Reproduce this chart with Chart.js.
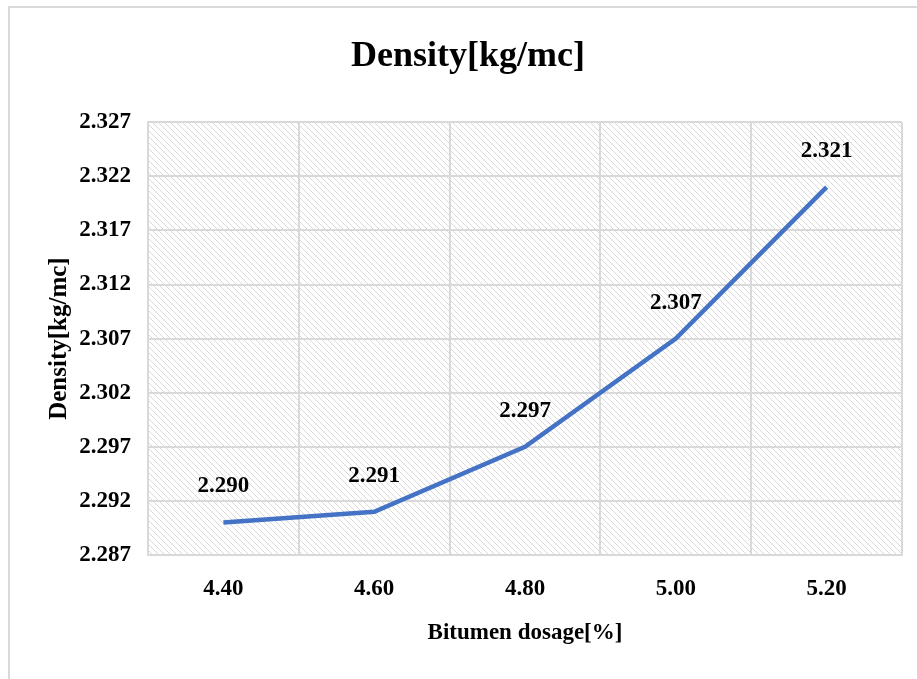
<!DOCTYPE html>
<html lang="en">
<head>
    <meta charset="UTF-8">
    <title>Density[kg/mc]</title>
    <script src="https://cdn.jsdelivr.net/npm/chart.js"></script>
    <style>
        html, body {
            margin: 0;
            padding: 0;
            background: #fff;
            overflow: hidden;
        }
        .frame {
            position: absolute;
            left: 8px;
            top: 6px;
            width: 1000px;
            height: 1000px;
            border: 2px solid #d9d9d9;
        }
        #densityChart {
            position: absolute;
            left: 0;
            top: 0;
        }
    </style>
</head>
<body>
    <div class="frame"></div>
    <canvas id="densityChart" width="917" height="679"></canvas>
    <script>
        // bitumen dosage (%) vs. density
        const dosages = ['4.40', '4.60', '4.80', '5.00', '5.20'];
        const density = [2.290, 2.291, 2.297, 2.307, 2.321];
        const yTicks = [2.287, 2.292, 2.297, 2.302, 2.307, 2.312, 2.317, 2.322, 2.327];

        const serif = 'Liberation Serif, Times New Roman, serif';
        const gridGray = '#d9d9d9';

        // diagonal hatch tile for the plot background
        function makeHatch() {
            const tile = document.createElement('canvas');
            tile.width = 6;
            tile.height = 6;
            const c = tile.getContext('2d');
            c.strokeStyle = '#d9d9d9';
            c.lineWidth = 1;
            c.beginPath();
            c.moveTo(-1, -1); c.lineTo(7, 7);
            c.moveTo(-4, 2); c.lineTo(2, 8);
            c.moveTo(2, -4); c.lineTo(8, 2);
            c.stroke();
            return tile;
        }

        const hatchBackground = {
            id: 'hatchBackground',
            beforeDraw(chart) {
                const { ctx, chartArea: a } = chart;
                ctx.save();
                ctx.fillStyle = ctx.createPattern(makeHatch(), 'repeat');
                ctx.fillRect(a.left, a.top, a.right - a.left, a.bottom - a.top);
                ctx.restore();
            }
        };

        // value labels above each point
        const pointLabels = {
            id: 'pointLabels',
            afterDatasetsDraw(chart) {
                const ctx = chart.ctx;
                const meta = chart.getDatasetMeta(0);
                ctx.save();
                ctx.font = 'bold 23px ' + serif;
                ctx.fillStyle = '#000';
                ctx.textAlign = 'center';
                ctx.textBaseline = 'middle';
                meta.data.forEach((pt, i) => {
                    ctx.fillText(density[i].toFixed(3), pt.x, pt.y - 36);
                });
                ctx.restore();
            }
        };

        const ctx = document.getElementById('densityChart').getContext('2d');
        new Chart(ctx, {
            type: 'line',
            data: {
                labels: dosages,
                datasets: [{
                    data: density,
                    borderColor: '#4472C4',
                    borderWidth: 4.5,
                    pointRadius: 0,
                    tension: 0
                }]
            },
            options: {
                responsive: false,
                devicePixelRatio: 1,
                animation: false,
                layout: { padding: { left: 34, right: 15, top: 0, bottom: 0 } },
                plugins: {
                    legend: { display: false },
                    tooltip: { enabled: false },
                    title: {
                        display: true,
                        text: 'Density[kg/mc]',
                        color: '#000',
                        font: { family: serif, size: 36, weight: 'bold' },
                        padding: { top: 35, bottom: 44 }
                    }
                },
                scales: {
                    x: {
                        offset: true,
                        afterFit(scale) { scale.height = 124; },
                        grid: { color: gridGray, lineWidth: 2, drawTicks: false, offset: true },
                        border: { color: gridGray, width: 2 },
                        ticks: {
                            color: '#000',
                            padding: 20,
                            font: { family: serif, size: 23, weight: 'bold' }
                        },
                        title: {
                            display: true,
                            text: 'Bitumen dosage[%]',
                            color: '#000',
                            font: { family: serif, size: 23, weight: 'bold' },
                            padding: { top: 0, bottom: 32 }
                        }
                    },
                    y: {
                        min: 2.287,
                        max: 2.327,
                        afterFit(scale) { scale.width = 114; },
                        afterBuildTicks(scale) {
                            scale.ticks = yTicks.map(v => ({ value: v }));
                        },
                        grid: { color: gridGray, lineWidth: 2, drawTicks: false },
                        border: { color: gridGray, width: 2 },
                        ticks: {
                            color: '#000',
                            padding: 17,
                            font: { family: serif, size: 23, weight: 'bold' },
                            callback: v => Number(v).toFixed(3)
                        },
                        title: {
                            display: true,
                            text: 'Density[kg/mc]',
                            color: '#000',
                            font: { family: serif, size: 25, weight: 'bold' },
                            padding: { top: 11, bottom: 0 }
                        }
                    }
                }
            },
            plugins: [hatchBackground, pointLabels]
        });
    </script>
</body>
</html>
